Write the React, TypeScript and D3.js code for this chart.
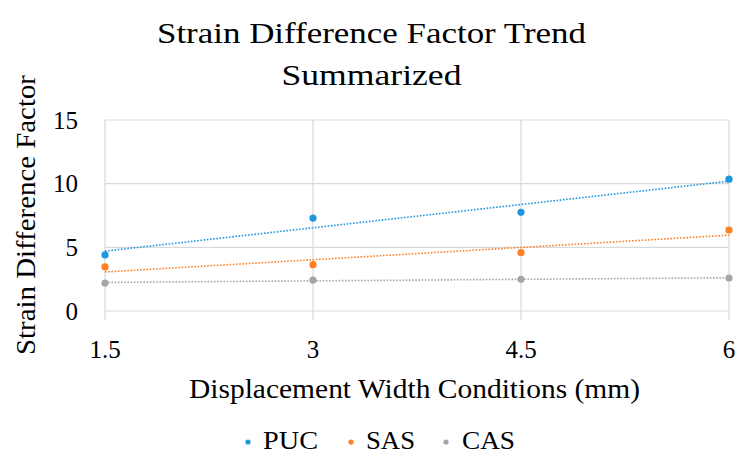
import React from "react";
import * as d3 from "d3";

const xValues = [1.5, 3, 4.5, 6];
const pucValues = [4.4, 7.3, 7.75, 10.35];
const sasValues = [3.46, 3.64, 4.58, 6.36];
const casValues = [2.2, 2.43, 2.49, 2.59];
const seriesNames = ["PUC", "SAS", "CAS"];
const seriesColors = ["#1F96E0", "#FF7F27", "#A5A5A5"];
const yTicks = [0, 5, 10, 15];
const xTicks = [1.5, 3, 4.5, 6];

const FONT = "'Liberation Serif', 'Times New Roman', serif";

function linreg(xs: number[], ys: number[]) {
  const mx = d3.mean(xs)!;
  const my = d3.mean(ys)!;
  let num = 0, den = 0;
  xs.forEach((x, i) => {
    num += (x - mx) * (ys[i] - my);
    den += (x - mx) * (x - mx);
  });
  const slope = num / den;
  return { slope, intercept: my - slope * mx };
}

export default function App() {
  const W = 744, H = 461;
  const x = d3.scaleLinear().domain([1.5, 6]).range([105, 729]);
  const y = d3.scaleLinear().domain([0, 15]).range([311, 120]);
  const allSeries = [pucValues, sasValues, casValues];
  const grid = "#D9D9D9";

  const legendPos = [
    { m: 248, t: 263, w: 55 },
    { m: 351, t: 366, w: 49 },
    { m: 446, t: 462, w: 53 },
  ];

  return (
    <svg width={W} height={H} style={{ position: "absolute", left: 0, top: 0, background: "#fff", fontFamily: FONT }}>
      <rect x={0} y={0} width={W} height={H} fill="#fff" />
      <g style={{ fontFamily: FONT }} fill="#000">
        <text x={371.5} y={43} textAnchor="middle" fontSize={30} textLength={429} lengthAdjust="spacingAndGlyphs">
          Strain Difference Factor Trend
        </text>
        <text x={371.5} y={85} textAnchor="middle" fontSize={30} textLength={180} lengthAdjust="spacingAndGlyphs">
          Summarized
        </text>

        {yTicks.map((t) => (
          <text key={"yl" + t} x={78} y={y(t)} dy="0.35em" textAnchor="end" fontSize={25}>
            {t}
          </text>
        ))}
        {xTicks.map((t) => (
          <text key={"xl" + t} x={x(t)} y={358} textAnchor="middle" fontSize={25}>
            {String(t)}
          </text>
        ))}

        <text x={414.5} y={398} textAnchor="middle" fontSize={27} textLength={451} lengthAdjust="spacingAndGlyphs">
          Displacement Width Conditions (mm)
        </text>
        <text transform={`translate(35,215) rotate(-90)`} textAnchor="middle" fontSize={27} textLength={280} lengthAdjust="spacingAndGlyphs">
          Strain Difference Factor
        </text>
      </g>

      {yTicks.map((t) => (
        <line key={"hy" + t} x1={x(1.5)} x2={x(6)} y1={y(t)} y2={y(t)} stroke={grid} strokeWidth={1.2} />
      ))}
      {xTicks.map((t) => (
        <line key={"vx" + t} x1={x(t)} x2={x(t)} y1={y(15)} y2={y(0) + 9} stroke={grid} strokeWidth={1.2} />
      ))}

      {allSeries.map((vals, si) => {
        const { slope, intercept } = linreg(xValues, vals);
        const line = d3.line<number>().x((d) => x(d)).y((d) => y(slope * d + intercept));
        return (
          <path key={"tr" + si} d={line([1.5, 6])!} stroke={seriesColors[si]} strokeWidth={1.6} strokeDasharray="1.6,1.6" fill="none" />
        );
      })}
      {allSeries.map((vals, si) =>
        vals.map((v, i) => (
          <circle key={`p${si}-${i}`} cx={x(xValues[i])} cy={y(v)} r={3.6} fill={seriesColors[si]} />
        ))
      )}

      {seriesNames.map((n, i) => (
        <g key={"lg" + n}>
          <circle cx={legendPos[i].m} cy={442} r={2.6} fill={seriesColors[i]} />
          <text x={legendPos[i].t} y={449} fontSize={25} fill="#000" style={{ fontFamily: FONT }} textLength={legendPos[i].w} lengthAdjust="spacingAndGlyphs">
            {n}
          </text>
        </g>
      ))}
    </svg>
  );
}
